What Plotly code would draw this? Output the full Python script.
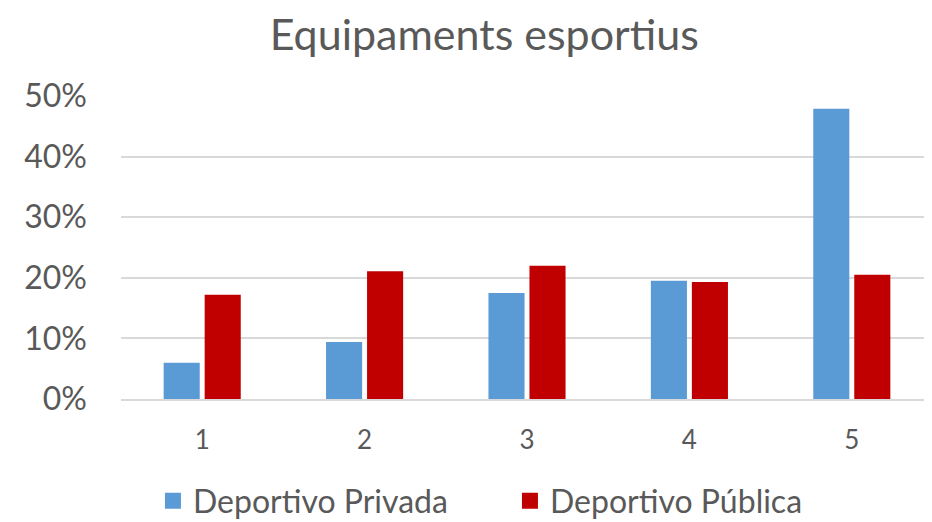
import plotly.graph_objects as go

categories = ["1", "2", "3", "4", "5"]
privada = [0.06, 0.094, 0.175, 0.195, 0.479]
publica = [0.172, 0.211, 0.22, 0.193, 0.205]
y_ticks = [0, 0.1, 0.2, 0.3, 0.4, 0.5]
y_labels = ["0%", "10%", "20%", "30%", "40%", "50%"]
series_names = ["Deportivo Privada", "Deportivo Pública"]
series_colors = ["#5B9BD5", "#C00000"]

FONT = "Lato, Calibri, Carlito, sans-serif"
GREY = "#595959"

fig = go.Figure()
for vals, name, col in zip([privada, publica], series_names, series_colors):
    fig.add_trace(go.Bar(x=categories, y=vals, name=name, showlegend=False,
                         marker=dict(color=col, line=dict(width=0))))
# legend-only entries with larger square symbols
for name, col in zip(series_names, series_colors):
    fig.add_trace(go.Scatter(x=[None], y=[None], mode="markers", name=name,
                             marker=dict(symbol="square", size=19, color=col)))

fig.update_layout(
    width=932, height=522,
    margin=dict(l=113, r=7, t=88, b=131),
    paper_bgcolor="white", plot_bgcolor="white",
    barmode="group", bargap=0.495, bargroupgap=0.12,
    title=dict(text="Equipaments esportius", x=0.511, xanchor="center",
               y=0.948, yanchor="middle",
               font=dict(family=FONT, size=43, color=GREY)),
    font=dict(family=FONT, color=GREY),
    showlegend=True,
    legend=dict(orientation="h", x=0.479, xanchor="center",
                yref="container", y=0.0556, yanchor="middle",
                font=dict(family=FONT, size=32, color=GREY),
                itemwidth=30, traceorder="normal", entrywidth=312),
    xaxis=dict(showgrid=False, showline=True, linecolor="#D9D9D9", linewidth=1.5,
               ticks="", ticklabelstandoff=17,
               tickfont=dict(family=FONT, size=26, color=GREY)),
    yaxis=dict(range=[0, 0.5], tickvals=y_ticks, ticktext=y_labels,
               showgrid=True, gridcolor="#D9D9D9", gridwidth=1.5,
               zeroline=False, showline=False, ticks="", ticklabelstandoff=33,
               tickfont=dict(family=FONT, size=32, color=GREY)),
)

fig.write_html("out.html")
